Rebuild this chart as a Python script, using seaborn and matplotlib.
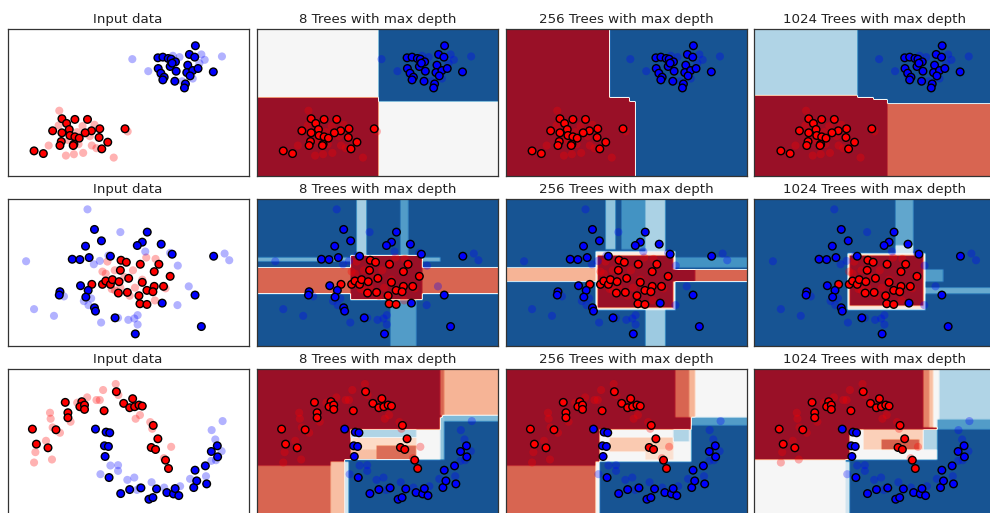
import numpy as np
import pandas as pd
import matplotlib
matplotlib.use("Agg")
import matplotlib.pyplot as plt
import seaborn as sns

sns.set_style("white")
plt.rcParams['font.family'] = ['DejaVu Sans']

# ---------------- titles ----------------
col_titles = ["Input data", "8 Trees with max depth",
              "256 Trees with max depth", "1024 Trees with max depth"]

# ---------------- data (panel units: x 0..726, y 0..439) ----------------
# Row 1 : two blobs
r1_train_blue = [(566,389),(453,353),(468,355),(484,351),(493,349),(506,341),(548,363),(564,355),
                 (454,321),(490,327),(508,313),(543,331),(540,309),(558,315),(574,321),(620,311),
                 (462,307),(472,295),(468,287),(504,283),(550,299),(536,275),(533,263),(496,337)]
r1_test_blue = [(376,349),(424,313),(498,359),(518,355),(584,363),(594,347),(646,357),(578,337),
                (526,283),(462,301),(558,291)]
r1_train_red = [(354,141),(164,171),(203,169),(241,169),(178,157),(136,135),(186,139),(164,129),
                (253,135),(278,141),(188,121),(203,117),(216,113),(234,129),(276,115),(162,103),
                (200,95),(158,91),(302,101),(284,81),(80,75),(108,67),(198,91)]
r1_test_red = [(156,195),(154,151),(226,149),(262,153),(210,131),(248,119),(124,91),(176,61),
               (200,65),(228,69),(320,55),(362,133),(254,91),(268,83),(184,107),(214,95)]

# Row 2 : circles
r2_train_blue = [(262,349),(421,341),(283,315),(406,311),(391,301),(463,305),(235,299),(246,265),
                 (195,260),(218,259),(310,269),(496,275),(621,269),(220,181),(243,167),(158,163),
                 (156,153),(236,147),(262,115),(265,105),(324,85),(466,129),(565,153),(584,59),(385,37)]
r2_test_blue = [(241,409),(340,341),(415,283),(490,279),(278,255),(260,245),(56,254),(513,241),
                (654,277),(668,257),(546,179),(170,149),(230,135),(244,123),(252,143),(80,111),
                (140,91),(282,71),(333,85),(364,79),(382,83),(392,93),(392,65),(512,123),(304,271)]
r2_train_red = [(342,257),(358,251),(400,245),(456,245),(340,227),(442,223),(490,209),(365,203),
                (254,185),(286,185),(296,195),(310,185),(316,199),(336,193),(406,191),(442,179),
                (470,179),(334,159),(361,161),(420,167),(438,163),(396,151),(399,127),(420,125)]
r2_test_red = [(301,253),(418,265),(446,261),(286,223),(323,227),(378,227),(352,207),(406,199),
               (296,217),(314,171),(340,175),(384,175),(476,173),(368,151),(444,137),(324,167)]

# Row 3 : moons
r3_train_red = [(328,373),(174,341),(224,343),(218,328),(232,333),(232,320),(182,310),(182,295),
                (291,316),(350,338),(377,352),(368,325),(383,328),(396,333),(406,330),(75,261),
                (146,259),(439,272),(87,216),(122,205),(453,232),(433,206),(446,200),(476,168),(485,143)]
r3_test_red = [(326,396),(288,378),(240,356),(210,340),(268,348),(278,348),(334,363),(128,310),
               (130,292),(190,283),(136,266),(158,250),(116,226),(84,192),(134,170),(80,161),
               (386,292),(399,303),(430,282),(436,262),(493,208),(471,174)]
r3_train_blue = [(265,261),(297,252),(308,250),(292,211),(304,209),(294,179),(306,116),(341,68),
                 (368,80),(402,85),(426,51),(438,56),(449,82),(480,71),(500,67),(516,62),(505,83),
                 (565,138),(561,86),(570,106),(600,97),(596,151),(614,194),(632,211),(633,178)]
r3_test_blue = [(648,285),(615,258),(626,230),(645,195),(614,166),(628,168),(280,126),(310,152),
                (333,153),(333,136),(361,109),(382,116),(390,79),(434,102),(472,86),(520,90),
                (550,112),(598,120),(398,86)]

# ---------------- forest probability maps (background value, regions x0,x1,y0,y1,p) -------
DR, DB = 0.07, 0.93
r1_8 = (0.5, [(0,364,0,235,DR), (364,726,222,439,DB)])
r1_256 = (DB, [(0,315,0,439,DR), (315,370,0,237,DR), (370,392,0,222,DR)])
r1_1024 = (DB, [(0,313,242,439,0.65), (0,313,0,242,DR), (313,363,0,237,DR), (363,403,0,227,DR),
                (403,726,0,217,0.21)])

r2_8 = (DB, [(303,333,265,439,0.67), (432,458,265,439,0.78), (405,478,0,140,0.78),
             (0,280,255,265,0.74), (500,550,255,263,0.74), (0,726,157,237,0.21),
             (280,500,137,272,DR)])
r2_256 = (DB, [(303,328,287,439,0.7), (351,423,287,439,0.8), (423,483,272,439,0.66),
               (423,478,0,127,0.68), (503,728,232,265,0.8), (0,280,190,234,0.33),
               (268,510,108,282,0.47), (275,503,117,272,DR), (503,568,192,229,DR),
               (568,728,192,229,0.21)])
r2_1024 = (DB, [(425,480,302,439,0.76), (428,483,267,302,0.6), (508,570,192,229,0.78),
                (508,728,155,175,0.75), (283,515,110,275,0.45), (288,508,122,269,DR)])

r3_8 = (DR, [(0,225,0,153,0.21), (225,270,0,163,0.35), (265,560,0,168,DB), (265,278,0,165,0.6),
             (560,726,0,283,DB), (560,726,283,298,0.72), (565,726,298,440,0.33),
             (555,565,298,440,0.21), (280,560,168,258,0.5), (280,480,233,258,0.65),
             (290,480,198,233,0.4), (360,480,168,208,0.22), (280,360,168,198,0.35),
             (553,563,168,293,0.7)])
r3_256 = (DR, [(513,553,293,440,0.21), (553,573,293,440,0.33), (573,728,293,440,0.5),
               (558,728,0,268,DB), (558,728,268,293,0.78), (0,268,0,153,0.21),
               (283,558,0,163,DB), (268,283,0,163,0.5), (283,558,163,260,0.5),
               (313,503,190,232,0.37), (503,553,223,258,0.65), (420,503,168,200,0.42)])
r3_1024 = (DR, [(508,528,263,440,0.25), (528,543,263,440,0.35), (543,558,263,440,0.5),
                (558,728,283,440,0.65), (553,728,0,258,DB), (553,728,258,288,0.78),
                (0,278,0,168,0.5), (278,553,0,168,DB), (278,288,0,165,0.6),
                (288,553,168,258,0.5), (328,508,198,258,0.38), (383,498,198,228,0.2),
                (508,553,198,258,0.65)])

rows = [
    dict(train_red=r1_train_red, train_blue=r1_train_blue, test_red=r1_test_red,
         test_blue=r1_test_blue, surf=[r1_8, r1_256, r1_1024], ymax=439),
    dict(train_red=r2_train_red, train_blue=r2_train_blue, test_red=r2_test_red,
         test_blue=r2_test_blue, surf=[r2_8, r2_256, r2_1024], ymax=439),
    dict(train_red=r3_train_red, train_blue=r3_train_blue, test_red=r3_test_red,
         test_blue=r3_test_blue, surf=[r3_8, r3_256, r3_1024], ymax=440),
]
XMAX = 726


def to_frame(red, blue):
    df = pd.DataFrame(red + blue, columns=["x", "y"])
    df["cls"] = ["red"] * len(red) + ["blue"] * len(blue)
    return df


def paint(surf, ymax, step=6):
    bg, regions = surf
    xs = np.arange(step / 2, XMAX, step)
    ys = np.arange(step / 2, ymax, step)
    X, Y = np.meshgrid(xs, ys)
    Z = np.full(X.shape, bg, dtype=float)
    for x0, x1, y0, y1, v in regions:
        Z[(X >= x0) & (X < x1) & (Y >= y0) & (Y < y1)] = v
    return Z


palette = {"red": "#FF0000", "blue": "#0000FF"}

W, H = 990, 513
fig = plt.figure(figsize=(W / 100, H / 100), dpi=100)
col_left = [7.5, 256.7, 505.5, 754.3]
row_top = [29.0, 199.3, 369.3]
aw, ah = 241.0, 147.0

for r, row in enumerate(rows):
    train = to_frame(row["train_red"], row["train_blue"])
    test = to_frame(row["test_red"], row["test_blue"])
    for c in range(4):
        ax = fig.add_axes([col_left[c] / W, (H - row_top[r] - ah) / H, aw / W, ah / H])
        if c > 0:
            Z = paint(row["surf"][c - 1], row["ymax"])
            ax.imshow(Z, extent=(0, XMAX, 0, row["ymax"]), origin="lower", cmap="RdBu",
                      vmin=0, vmax=1, aspect="auto", interpolation="bilinear",
                      interpolation_stage="data")
        sns.scatterplot(data=test, x="x", y="y", hue="cls", palette=palette, ax=ax,
                        legend=False, s=34, alpha=0.3, edgecolor="none", linewidth=0)
        sns.scatterplot(data=train, x="x", y="y", hue="cls", palette=palette, ax=ax,
                        legend=False, s=30, edgecolor="black", linewidth=1.0)
        ax.set_xlim(0, XMAX)
        ax.set_ylim(0, row["ymax"])
        ax.set_xticks([])
        ax.set_yticks([])
        ax.set_xlabel("")
        ax.set_ylabel("")
        for sp in ax.spines.values():
            sp.set_color("#333333")
            sp.set_linewidth(0.9)
        ax.set_title(col_titles[c], fontsize=9.6, pad=4.5, color="#222222")

fig.savefig("out.png", dpi=100)
